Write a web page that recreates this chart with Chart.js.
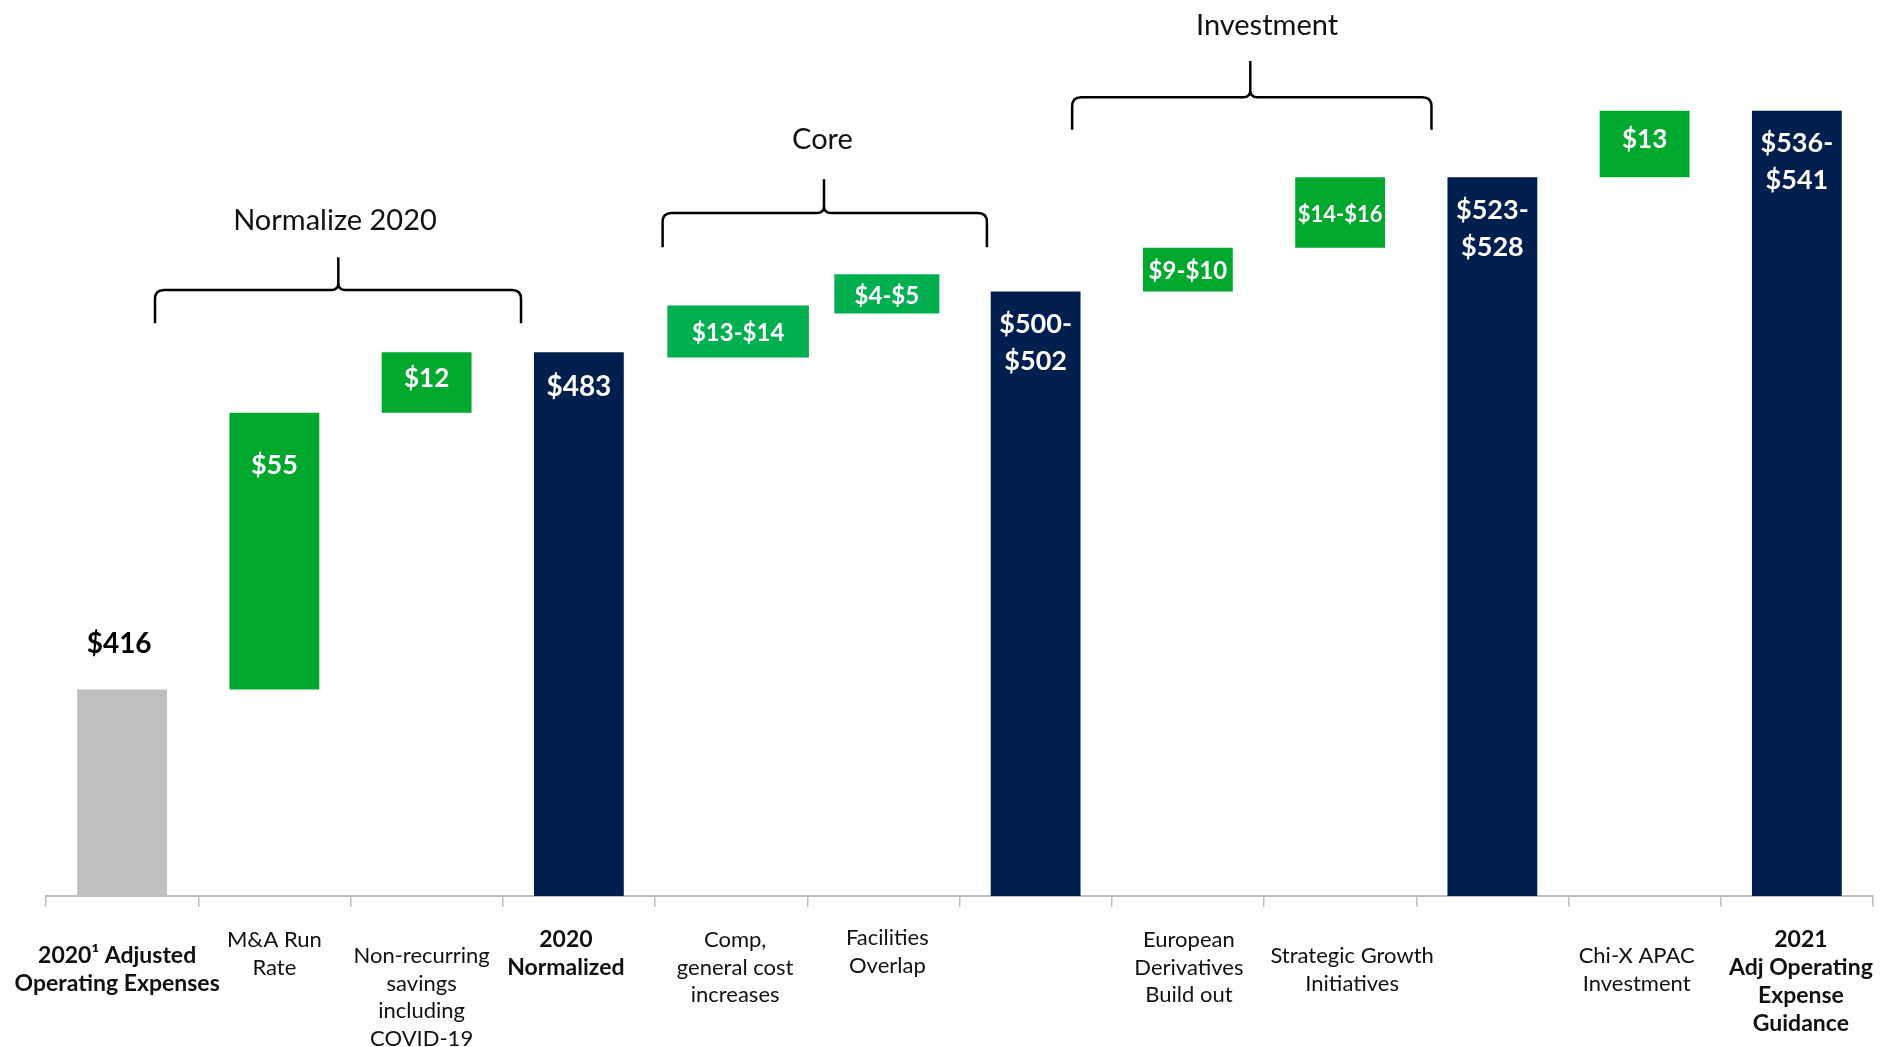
<!DOCTYPE html>
<html>
<head>
<meta charset="utf-8">
<script src="https://cdn.jsdelivr.net/npm/chart.js@4"></script>
<style>
  html, body { margin: 0; padding: 0; background: #ffffff; }
  #wrap { width: 1890px; height: 1047px; position: relative; }
</style>
</head>
<body>
<div id="wrap"><canvas id="c"></canvas></div>
<script>
// ---------------- data ----------------
const categories = [
  ["2020\u00B9 Adjusted", "Operating Expenses"],
  ["M&A Run", "Rate"],
  ["Non-recurring", "savings", "including", "COVID-19"],
  ["2020", "Normalized"],
  ["Comp,", "general cost", "increases"],
  ["Facilities", "Overlap"],
  [""],
  ["European", "Derivatives", "Build out"],
  ["Strategic Growth", "Initiatives"],
  [""],
  ["Chi-X APAC", "Investment"],
  ["2021", "Adj Operating", "Expense", "Guidance"]
];
// bar extents as drawn in the picture (axis units, axis starts at 375)
const barStart = [375, 416, 471, 375, 482, 490.7, 375, 495.1, 503.8, 375, 517.8, 375];
const barEnd   = [416, 471, 483, 483, 492.3, 498.5, 495.1, 503.8, 517.8, 517.8, 531, 531];
const valueLabels = [
  ["$416"], ["$55"], ["$12"], ["$483"], ["$13-$14"], ["$4-$5"],
  ["$500-", "$502"], ["$9-$10"], ["$14-$16"], ["$523-", "$528"], ["$13"], ["$536-", "$541"]
];
const barType = ["start", "up", "up", "total", "up", "up", "total", "up", "up", "total", "up", "total"];
const groupNames = ["Normalize 2020", "Core", "Investment"];
const boldCategories = [0, 3, 11];

// ---------------- styles ----------------
const FONT = 'Lato, "Noto Sans", sans-serif';
const COLORS = { start: "#BFBFBF", up: "#00A82D", total: "#001F4E" };
const WIDE_GREEN = "#00B050";
const wideBars = { 4: 0.93, 5: 0.69 };
const wideShift = { 4: 7, 5: 3.5 };
const AXIS_MIN = 375, AXIS_MAX = 553;

const mainData = barStart.map((s, i) => (wideBars[i] ? null : [s, barEnd[i]]));
const datasets = [{
  data: mainData,
  backgroundColor: barType.map(t => COLORS[t]),
  borderWidth: 0,
  barPercentage: 0.59,
  categoryPercentage: 1,
  grouped: false
}];
const datasetShift = [0];
Object.keys(wideBars).forEach(k => {
  const idx = Number(k);
  datasets.push({
    data: barStart.map((s, i) => (i === idx ? [s, barEnd[i]] : null)),
    backgroundColor: WIDE_GREEN,
    borderWidth: 0,
    barPercentage: wideBars[k],
    categoryPercentage: 1,
    grouped: false
  });
  datasetShift.push(wideShift[k]);
});

// layout constants for annotation plugin
const valueFontSize = [28, 27, 26, 28, 24, 24, 27, 24, 22, 27, 26, 27];
const labelTopOffset = [60, 44, 60, 44, 44, 42, 44, 44, 60, 44, 60, 44];
const labelDx = [-5, 0, -5, -13, 4, 4, 0, 1, 12, 0, -8, 4];
const braces = [
  { text: groupNames[0], x1: 0.216, x2: 2.62, xt: 1.42, xText: 1.398, yText: 509.1, yTip: 501.9, yLine: 495.4, yEnd: 488.8 },
  { text: groupNames[1], x1: 3.55, x2: 5.68, xt: 4.61, xText: 4.60, yText: 525.2, yTip: 517.4, yLine: 510.7, yEnd: 503.9 },
  { text: groupNames[2], x1: 6.24, x2: 8.60, xt: 7.41, xText: 7.52, yText: 548.0, yTip: 540.9, yLine: 533.7, yEnd: 527.2 }
];

const annotate = {
  id: "annotate",
  beforeDatasetDraw(chart, args) {
    chart.ctx.save();
    chart.ctx.translate(datasetShift[args.index] || 0, 0);
  },
  afterDatasetDraw(chart) {
    chart.ctx.restore();
  },
  afterDatasetsDraw(chart) {
    const ctx = chart.ctx;
    const xs = chart.scales.x, ys = chart.scales.y;
    ctx.save();
    // value labels
    for (let i = 0; i < barEnd.length; i++) {
      const cx = xs.getPixelForValue(i) + (wideShift[i] || 0);
      const top = ys.getPixelForValue(barEnd[i]);
      const bot = ys.getPixelForValue(barStart[i]);
      const lines = valueLabels[i];
      ctx.textAlign = "center";
      ctx.textBaseline = "middle";
      ctx.font = "bold " + valueFontSize[i] + "px " + FONT;
      if (barType[i] === "start") {
        ctx.fillStyle = "#000000";
        ctx.fillText(lines[0], cx - 3, top - 46);
      } else if (barType[i] === "total") {
        ctx.fillStyle = "#ffffff";
        const first = lines.length > 1 ? 33 : 35;
        lines.forEach((t, k) => ctx.fillText(t, cx, top + first + k * 37));
      } else {
        ctx.fillStyle = "#ffffff";
        const h = bot - top;
        let yy;
        if (h > 100) yy = top + 53;
        else if (lines[0].indexOf("-") >= 0) yy = (top + bot) / 2 + 2;
        else yy = (top + bot) / 2 - 4;
        ctx.fillText(lines[0], cx, yy);
      }
    }
    // braces
    ctx.strokeStyle = "#000000";
    ctx.lineWidth = 2.5;
    ctx.lineCap = "butt";
    braces.forEach(b => {
      const x1 = xs.getPixelForValue(b.x1), x2 = xs.getPixelForValue(b.x2), xt = xs.getPixelForValue(b.xt);
      const yl = ys.getPixelForValue(b.yLine), ye = ys.getPixelForValue(b.yEnd), yt = ys.getPixelForValue(b.yTip);
      const r = 9, s = 7;
      ctx.beginPath();
      ctx.moveTo(x1, ye);
      ctx.lineTo(x1, yl + r);
      ctx.quadraticCurveTo(x1, yl, x1 + r, yl);
      ctx.lineTo(xt - s, yl);
      ctx.quadraticCurveTo(xt, yl, xt, yl - s);
      ctx.lineTo(xt, yt);
      ctx.moveTo(xt, yl - s);
      ctx.quadraticCurveTo(xt, yl, xt + s, yl);
      ctx.lineTo(x2 - r, yl);
      ctx.quadraticCurveTo(x2, yl, x2, yl + r);
      ctx.lineTo(x2, ye);
      ctx.stroke();
      ctx.fillStyle = "#111111";
      ctx.font = "29px " + FONT;
      ctx.textAlign = "center";
      ctx.textBaseline = "middle";
      ctx.fillText(b.text, xs.getPixelForValue(b.xText), ys.getPixelForValue(b.yText));
    });
    // category labels
    ctx.fillStyle = "#111111";
    ctx.textAlign = "center";
    ctx.textBaseline = "middle";
    for (let i = 0; i < categories.length; i++) {
      const bold = boldCategories.indexOf(i) >= 0;
      ctx.font = (bold ? "bold 23px " : "22px ") + FONT;
      const cx = xs.getPixelForValue(i) + labelDx[i];
      categories[i].forEach((t, k) => {
        ctx.fillText(t, cx, ys.bottom + labelTopOffset[i] + k * 27.7);
      });
    }
    ctx.restore();
  }
};

new Chart(document.getElementById("c"), {
  type: "bar",
  data: { labels: categories, datasets: datasets },
  options: {
    responsive: true,
    maintainAspectRatio: false,
    animation: false,
    layout: { padding: { left: 46, right: 17, top: 0, bottom: 0 } },
    plugins: { legend: { display: false }, tooltip: { enabled: false } },
    scales: {
      x: {
        grid: { display: true, drawOnChartArea: false, drawTicks: true, tickLength: 11, color: "#BFBFBF", lineWidth: 1.5, offset: true },
        border: { display: true, color: "#BFBFBF", width: 2 },
        ticks: { display: false },
        afterFit(scale) { scale.height = 151; }
      },
      y: {
        display: false,
        min: AXIS_MIN,
        max: AXIS_MAX
      }
    }
  },
  plugins: [annotate]
});
</script>
</body>
</html>
